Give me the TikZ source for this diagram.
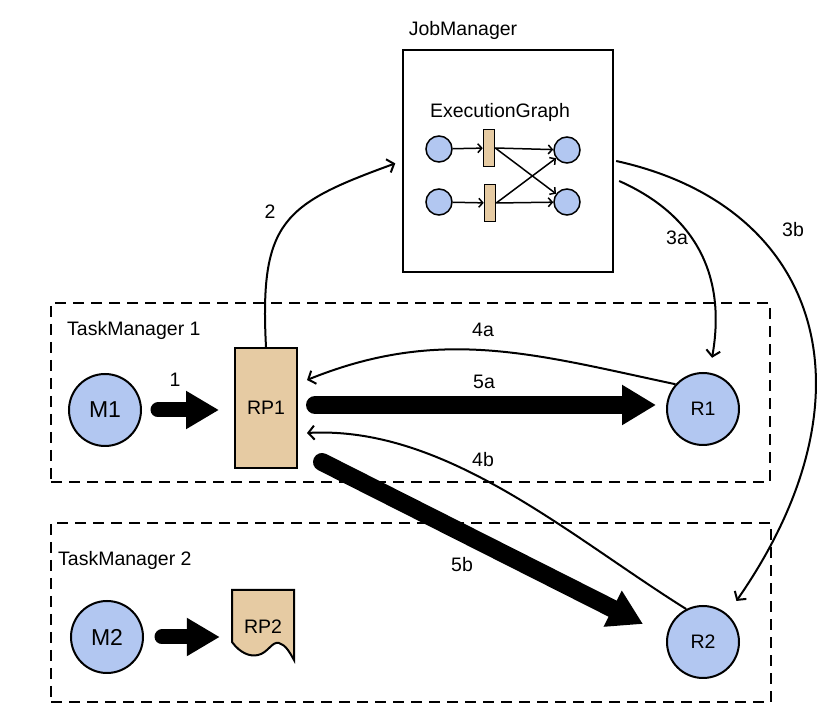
\documentclass[tikz,border=0pt]{standalone}
\usepackage{fontspec}
\setmainfont{Liberation Sans}
\usetikzlibrary{arrows.meta}
\definecolor{cblue}{HTML}{B2C7F1}
\definecolor{ctan}{HTML}{E6CBA3}
\tikzset{
  lbl/.style={font=\fontsize{19.5}{22}\selectfont, inner sep=0pt},
  bigl/.style={font=\fontsize{23}{26}\selectfont, inner sep=0pt},
  opnode/.style={circle, draw, line width=2pt, fill=cblue, minimum size=72pt, inner sep=0pt},
  smallop/.style={circle, draw, line width=1.5pt, fill=cblue, minimum size=26pt, inner sep=0pt},
  barnode/.style={rectangle, draw, line width=1.5pt, fill=ctan, minimum width=11pt, minimum height=37pt, inner sep=0pt},
  tmbox/.style={draw, line width=2.2pt, dash pattern=on 11pt off 7pt, inner sep=0pt},
  thinarrow/.style={line width=2pt, -{Straight Barb[length=6pt,width=14pt,line width=2pt]}},
  tinyarrow/.style={line width=1.5pt, -{Straight Barb[length=4pt,width=9pt,line width=1.5pt]}},
  bigarrow/.style={line width=18pt, line cap=round, -{Triangle[length=34pt,width=38pt]}},
  midarrow/.style={line width=15pt, line cap=round, -{Triangle[length=33pt,width=36pt]}},
}
\begin{document}
\begin{tikzpicture}[x=1pt,y=1pt]
\useasboundingbox (0,0) rectangle (839,723);
% boxes
\node[tmbox, minimum width=719pt, minimum height=179pt] (tm1) at (410.5,330.5) {};
\node[tmbox, minimum width=720pt, minimum height=179pt] (tm2) at (411,110.5) {};
\node[lbl, anchor=west] (tm1l) at (67,393) {TaskManager 1};
\node[lbl, anchor=west] (tm2l) at (58,163) {TaskManager 2};
% job manager
\node[draw, line width=2.3pt, minimum width=210pt, minimum height=222pt, inner sep=0pt] (jm) at (508,562) {};
\node[lbl] (jml) at (463,693) {JobManager};
\node[lbl] (egl) at (500,611) {ExecutionGraph};
\node[smallop] (a1) at (439,574) {};
\node[smallop] (a2) at (439,521) {};
\node[smallop] (b1) at (567,573) {};
\node[smallop] (b2) at (567,521) {};
\node[barnode] (p1) at (489,575) {};
\node[barnode] (p2) at (490,520) {};
\draw[tinyarrow] (a1) -- (p1);
\draw[tinyarrow] (a2) -- (p2);
\draw[tinyarrow] (p1.east) -- (b1);
\draw[tinyarrow] (p1.east) -- (b2);
\draw[tinyarrow] (p2.east) -- (b1);
\draw[tinyarrow] (p2.east) -- (b2);
% task manager 1
\node[opnode, bigl] (m1) at (105,313) {M1};
\node[draw, line width=2pt, fill=ctan, minimum width=62pt, minimum height=120pt, inner sep=0pt, lbl] (rp1) at (266,315) {RP1};
\node[opnode, lbl] (r1) at (703,314) {R1};
% task manager 2
\node[opnode, bigl] (m2) at (107,86) {M2};
\node[minimum width=62pt, minimum height=70pt, inner sep=0pt] (rp2) at (263,98) {};
\draw[line width=2pt, fill=ctan] (232,133) -- (232,81)
  .. controls (240,70) and (250,66) .. (258,68)
  .. controls (268,70) and (272,82) .. (279,80)
  .. controls (286,78) and (290,70) .. (294,63) -- (294,133) -- cycle;
\node[lbl] (rp2l) at (263,96) {RP2};
\node[opnode, lbl] (r2) at (703,81) {R2};
% thick arrows
\draw[midarrow, shorten <=16pt, shorten >=15pt] (m1.east) -- (rp1.west |- m1.east);
\draw[midarrow, shorten <=18pt, shorten >=12pt] (m2.east) -- (rp2.west |- m2.east);
\draw[bigarrow, shorten <=17pt, shorten >=10pt] ([yshift=3pt]rp1.east) -- ([yshift=4pt]r1.west);
\draw[bigarrow] ([shift={(24,7)}]rp1.south east) -- ([shift={(-60,18)}]r2.center);
% thin arrows
\draw[thinarrow, shorten >=7pt] (rp1.north) to[out=93, in=200, looseness=1.4] (jm.west);
\draw[thinarrow, shorten >=15pt] ([shift={(5,-20)}]jm.east) to[out=-24, in=80, looseness=1.1] (r1.80);
\draw[thinarrow, shorten >=16pt] ([xshift=2pt]jm.east) .. controls +(205,-45) and +(153,220) .. (r2.49);
\draw[thinarrow] (r1.138) to[out=168, in=22] ([shift={(9,28)}]rp1.east);
\draw[thinarrow] (r2.117) to[out=148, in=3, looseness=0.85] ([shift={(9,-25)}]rp1.east);
% labels
\node[lbl] (l1) at (175,343) {1};
\node[lbl] (l2) at (270,511) {2};
\node[lbl] (l3a) at (677,485) {3a};
\node[lbl] (l3b) at (793,493) {3b};
\node[lbl] (l4a) at (483,393) {4a};
\node[lbl] (l5a) at (484,341) {5a};
\node[lbl] (l4b) at (483,263) {4b};
\node[lbl] (l5b) at (462,158) {5b};
\end{tikzpicture}
\end{document}
